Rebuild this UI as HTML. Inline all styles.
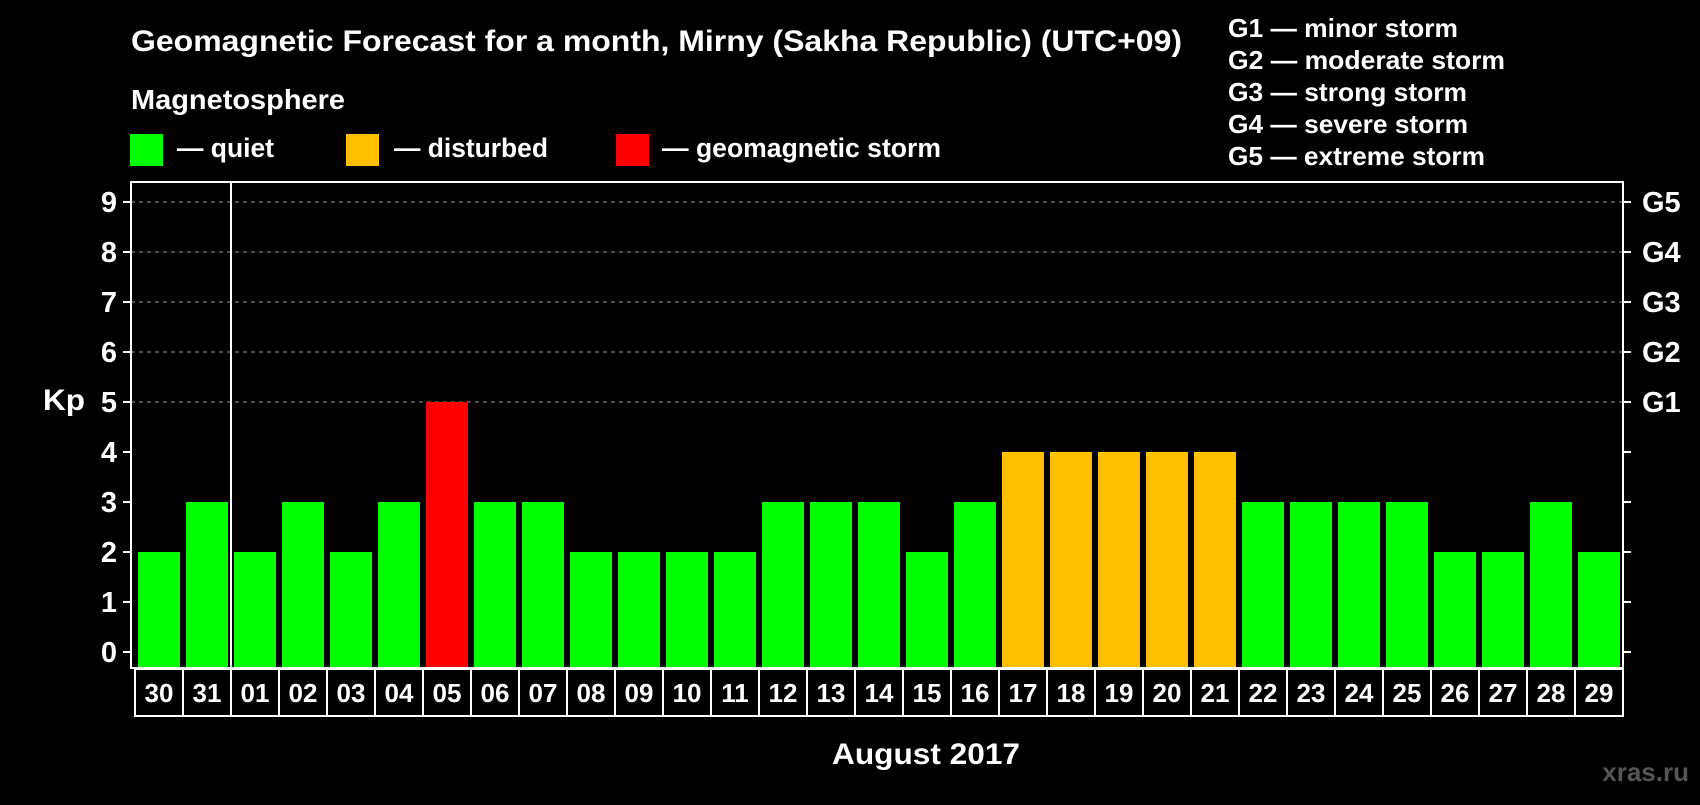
<!DOCTYPE html>
<html><head><meta charset="utf-8"><style>
body{margin:0;background:#000;}
svg text{font-family:"Liberation Sans",Arial,sans-serif;font-weight:bold;fill:#fff;}
</style></head><body>
<svg id="c" width="1700" height="800" viewBox="0 0 1700 800">
<rect width="1700" height="800" fill="#000"/>
<text x="131" y="51" font-size="30" textLength="1051" lengthAdjust="spacingAndGlyphs">Geomagnetic Forecast for a month, Mirny (Sakha Republic) (UTC+09)</text>
<text x="131" y="109" font-size="28" textLength="214" lengthAdjust="spacingAndGlyphs">Magnetosphere</text>
<g>
<rect x="130" y="134" width="33" height="32" fill="#00ff00"/>
<text x="177" y="157" font-size="27" textLength="97" lengthAdjust="spacingAndGlyphs">— quiet</text>
<rect x="346" y="134" width="33" height="32" fill="#ffc000"/>
<text x="394" y="157" font-size="27" textLength="154" lengthAdjust="spacingAndGlyphs">— disturbed</text>
<rect x="616" y="134" width="33" height="32" fill="#ff0000"/>
<text x="662" y="157" font-size="27" textLength="279" lengthAdjust="spacingAndGlyphs">— geomagnetic storm</text>
</g>
<g font-size="26">
<text x="1228" y="37" textLength="230" lengthAdjust="spacingAndGlyphs">G1 — minor storm</text>
<text x="1228" y="69" textLength="277" lengthAdjust="spacingAndGlyphs">G2 — moderate storm</text>
<text x="1228" y="101" textLength="239" lengthAdjust="spacingAndGlyphs">G3 — strong storm</text>
<text x="1228" y="133" textLength="240" lengthAdjust="spacingAndGlyphs">G4 — severe storm</text>
<text x="1228" y="165" textLength="257" lengthAdjust="spacingAndGlyphs">G5 — extreme storm</text>
</g>
<text x="43" y="410" font-size="30" textLength="42" lengthAdjust="spacingAndGlyphs">Kp</text>
<text x="832" y="764" font-size="30" textLength="188" lengthAdjust="spacingAndGlyphs">August 2017</text>
<text x="1689" y="781" font-size="26" text-anchor="end" style="fill:#555">xras.ru</text>
<g id="plot"></g>
</svg>
<script>
const days=["30","31","01","02","03","04","05","06","07","08","09","10","11","12","13","14","15","16","17","18","19","20","21","22","23","24","25","26","27","28","29"];
const kp=[2,3,2,3,2,3,5,3,3,2,2,2,2,3,3,3,2,3,4,4,4,4,4,3,3,3,3,2,2,3,2];
const yTicks=[0,1,2,3,4,5,6,7,8,9];
const gLabels=["G1","G2","G3","G4","G5"];
const NS="http://www.w3.org/2000/svg";
const g=document.getElementById('plot');
const L=131,R=1623,T=182,B=668;
const y=v=>652-v*50;
const x=i=>138+i*48;
function mk(t,a){const e=document.createElementNS(NS,t);for(const k in a)e.setAttribute(k,a[k]);g.appendChild(e);return e;}
yTicks.forEach(v=>{
  if(v>=5){const l=mk('line',{x1:L,x2:R,y1:y(v),y2:y(v),stroke:'#999','stroke-dasharray':'4,4','stroke-width':1});
  
  }
  const t1=mk('line',{x1:L-8,x2:L,y1:y(v),y2:y(v),stroke:'#fff','stroke-width':2});
  
  
  const t2=mk('line',{x1:R,x2:R+8,y1:y(v),y2:y(v),stroke:'#fff','stroke-width':2});
  
  
  const tx=mk('text',{x:L-14,y:y(v)+10,'font-size':29,'text-anchor':'end'});tx.textContent=v;
  
  
});
gLabels.forEach((s,i)=>{const tx=mk('text',{x:R+19,y:y(5+i)+10,'font-size':29});tx.textContent=s;
  
  });
kp.forEach((v,i)=>{
  const c=v>=5?'#ff0000':v>=4?'#ffc000':'#00ff00';
  const r=mk('rect',{x:x(i),y:y(v),width:42,height:B-y(v),fill:c});
  
  
  const bx=mk('rect',{x:135+i*48,y:669,width:48,height:47,fill:'none',stroke:'#fff','stroke-width':2});
  
  
  const tx=mk('text',{x:159+i*48,y:702,'font-size':26,'text-anchor':'middle'});tx.textContent=days[i];
  
  
});
const fr=mk('rect',{x:L,y:T,width:R-L,height:B-T,fill:'none',stroke:'#fff','stroke-width':2});


const sep=mk('line',{x1:231,x2:231,y1:T,y2:B,stroke:'#fff','stroke-width':2});


</script>
</body></html>
